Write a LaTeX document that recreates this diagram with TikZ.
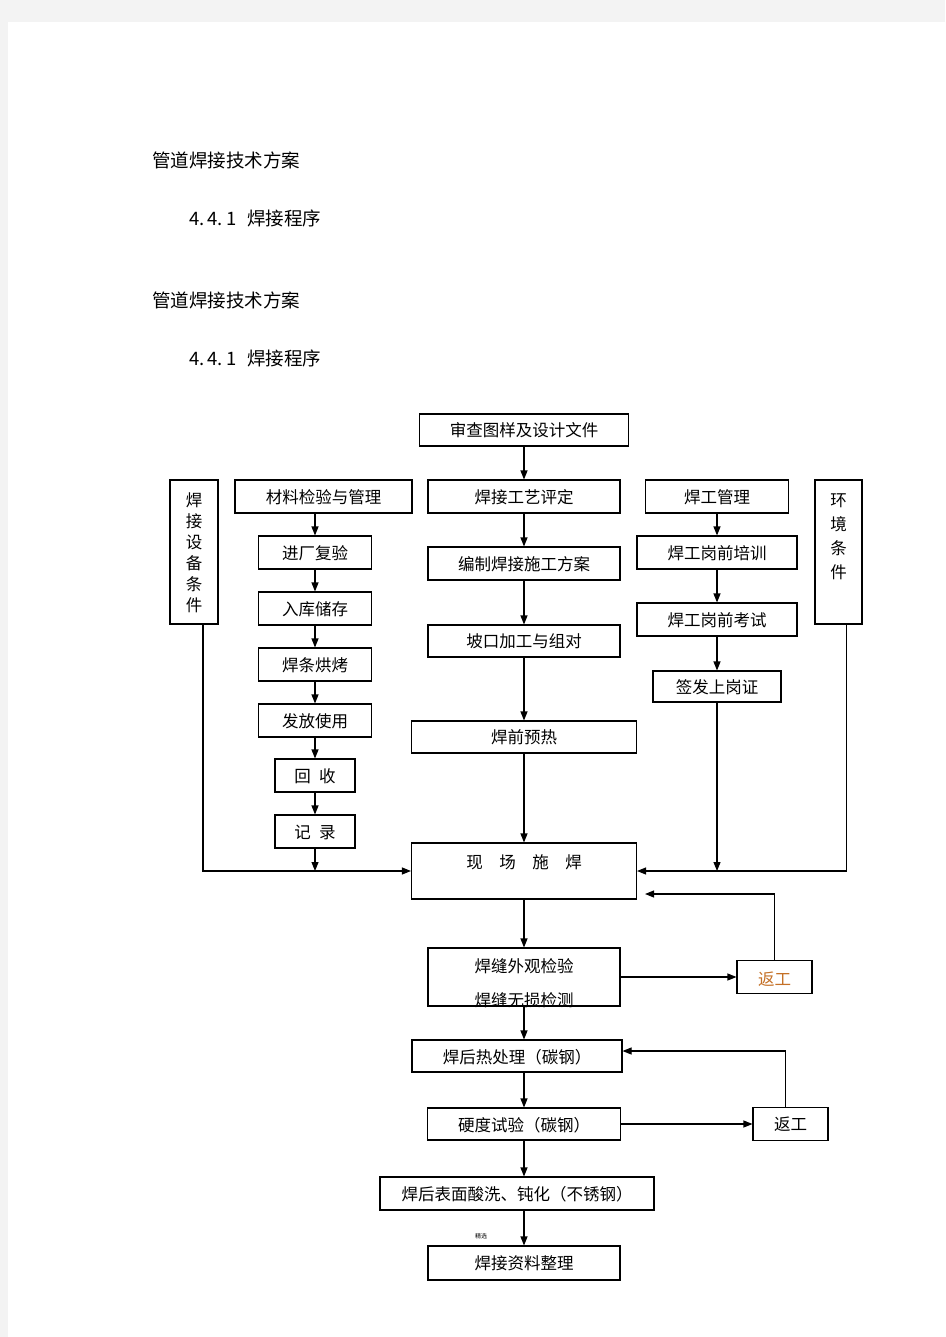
\documentclass[tikz,border=0pt]{standalone}
\usepackage{fontspec}
\newfontfamily\cjk{Noto Sans CJK SC}
\usetikzlibrary{arrows.meta, positioning}
\definecolor{pagegray}{RGB}{243,243,243}
\definecolor{redo}{RGB}{196,112,38}

\begin{document}
\begin{tikzpicture}[x=1pt, y=-1pt, font=\cjk\fontsize{16.5pt}{22pt}\selectfont]

  \tikzstyle{stage} = [rectangle, draw, line width=1.1pt, inner sep=0pt, align=center, minimum height=33pt, text depth=0pt];
  \tikzstyle{arr} = [draw, line width=1.1pt, -{Triangle[length=9pt, width=7pt]}];
  \tikzstyle{title} = [anchor=west, inner sep=0pt, font=\cjk\fontsize{18.5pt}{22pt}\selectfont];

  \fill[pagegray] (0,0) rectangle (945,1337);
  \fill[white] (8,22) rectangle (945,1337);
  \useasboundingbox (0,0) rectangle (945,1337);

  \node[title] (head1) at (152,160) {管道焊接技术方案};
  \node[title] (sec1) at (189,218) {4.\,4.\,1\hspace{11pt}焊接程序};
  \node[title] (head2) at (152,300) {管道焊接技术方案};
  \node[title] (sec2) at (189,358) {4.\,4.\,1\hspace{11pt}焊接程序};

  \node[stage, minimum width=209pt, minimum height=32pt] (review) at (524,430) {审查图样及设计文件};

  \node[stage, minimum width=48pt, minimum height=144pt] (equip) at (194,552) {焊\\[-1pt]接\\[-1pt]设\\[-1pt]备\\[-1pt]条\\[-1pt]件};
  \node[stage, minimum width=177pt] (matl) at (323.5,496.5) {材料检验与管理};
  \node[stage, minimum width=192pt] (wpq) at (524,496.5) {焊接工艺评定};
  \node[stage, minimum width=143pt] (welder) at (717,496.5) {焊工管理};
  \node[stage, minimum width=47pt, minimum height=144pt] (env) at (838.5,552) {环\\[2pt]境\\[2pt]条\\[2pt]件\\[10pt]\mbox{}};

  \node[stage, minimum width=113pt] (inbound) at (315,552.5) {进厂复验};
  \node[stage, minimum width=113pt] (store) at (315,608.5) {入库储存};
  \node[stage, minimum width=113pt] (bake) at (315,664.5) {焊条烘烤};
  \node[stage, minimum width=113pt] (issue) at (315,720.5) {发放使用};
  \node[stage, minimum width=80pt] (recycle) at (315,775.5) {回\enspace 收};
  \node[stage, minimum width=80pt] (record) at (315,831.5) {记\enspace 录};

  \node[stage, minimum width=192pt] (plan) at (524,563.5) {编制焊接施工方案};
  \node[stage, minimum width=192pt, minimum height=32pt] (bevel) at (524,641) {坡口加工与组对};
  \node[stage, minimum width=225pt, minimum height=32pt] (preheat) at (524,737) {焊前预热};

  \node[stage, minimum width=160pt] (train) at (717,552.5) {焊工岗前培训};
  \node[stage, minimum width=160pt] (exam) at (717,619.5) {焊工岗前考试};
  \node[stage, minimum width=128pt, minimum height=31pt] (cert) at (717,686.5) {签发上岗证};

  \node[stage, minimum width=225pt, minimum height=56pt, text depth=18pt] (weld) at (524,871) {现\quad 场\quad 施\quad 焊};
  \node[stage, minimum width=192pt, minimum height=56pt] (inspect) at (524,977) {\rule{0pt}{24pt}焊缝外观检验\\[12pt]焊缝无损检测};
  \node[stage, minimum width=75pt, text=redo] (rework1) at (774.5,977) {\raisebox{-3pt}{返工}};

  \node[stage, minimum width=210pt, minimum height=32pt] (pwht) at (517,1056) {焊后热处理（碳钢）};
  \node[stage, minimum width=193pt, minimum height=32pt] (hard) at (524,1124) {硬度试验（碳钢）};
  \node[stage, minimum width=75pt] (rework2) at (790.5,1124) {返工};
  \node[stage, minimum width=274pt] (pickle) at (517,1193.5) {焊后表面酸洗、钝化（不锈钢）};
  \node[inner sep=0pt, font=\cjk\fontsize{6pt}{7pt}\selectfont] (note) at (481,1236) {精选};
  \node[stage, minimum width=192pt, minimum height=34pt] (docs) at (524,1263) {焊接资料整理};

  \draw[arr] (review) -- (wpq);
  \draw[arr] (wpq) -- (plan);
  \draw[arr] (plan) -- (bevel);
  \draw[arr] (bevel) -- (preheat);
  \draw[arr] (preheat) -- (weld);

  \draw[arr] (matl.south -| inbound) -- (inbound);
  \foreach \a/\b in {inbound/store, store/bake, bake/issue, issue/recycle, recycle/record}
    \draw[arr] (\a) -- (\b);

  \draw[arr] (welder) -- (train);
  \draw[arr] (train) -- (exam);
  \draw[arr] (exam) -- (cert);

  \draw[arr] (record.south) -- (record.south |- weld.west);
  \draw[arr] ([xshift=9pt]equip.south) |- (weld.west);
  \draw[arr] (cert.south) -- (cert.south |- weld.east);
  \draw[arr] ([xshift=8pt]env.south) |- (weld.east);

  \draw[arr] (weld) -- (inspect);
  \draw[arr] (inspect) -- (rework1);
  \draw[arr] (rework1.north) |- ([shift={(8pt,-23pt)}]weld.east);
  \draw[arr] (inspect.south) -- (inspect.south |- pwht.north);
  \draw[arr] (hard.north |- pwht.south) -- (hard.north);
  \draw[arr] (hard) -- (rework2);
  \draw[arr] ([xshift=-5pt]rework2.north) |- ([yshift=5pt]pwht.east);
  \draw[arr] (hard.south) -- (hard.south |- pickle.north);
  \draw[arr] (docs.north |- pickle.south) -- (docs.north);
\end{tikzpicture}
\end{document}
